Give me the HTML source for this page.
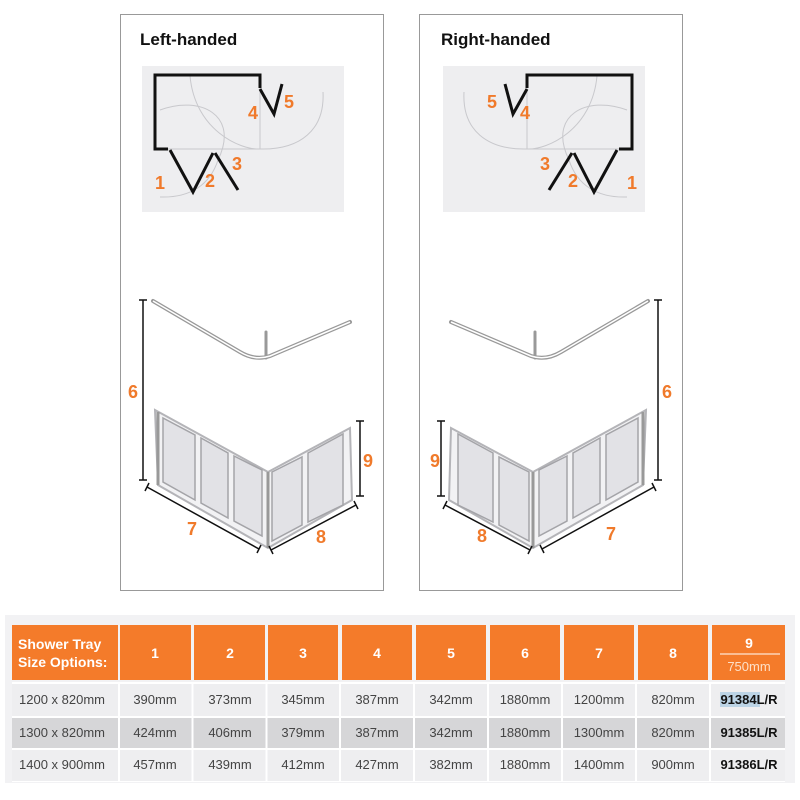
<!DOCTYPE html>
<html><head><meta charset="utf-8"><style>
html,body{margin:0;padding:0;background:#fff;width:800px;height:800px;overflow:hidden}
svg{display:block}
.o{fill:#f07a2b;font-family:"Liberation Sans",sans-serif;font-weight:bold;font-size:18px}
.t{fill:#111;font-family:"Liberation Sans",sans-serif;font-weight:bold;font-size:17px}
.c{font-family:"Liberation Sans Narrow","Liberation Sans",sans-serif;font-size:13px;fill:#444;text-anchor:middle}
.h{font-family:"Liberation Sans Narrow","Liberation Sans",sans-serif;font-size:14px;fill:#fff;font-weight:bold;text-anchor:middle}
</style></head><body>
<svg width="800" height="800" viewBox="0 0 800 800">
<defs>
<g id="plan">
 <rect x="142" y="66" width="202" height="146" fill="#eeeef0"/>
 <g fill="none" stroke="#c8c8cc" stroke-width="1">
  <path d="M168 149 H260 V88"/>
  <path d="M190 76 C195 130 240 150 260 149 C300 150 325 130 323 92"/>
  <path d="M160 110 C200 95 240 115 218 160 C210 185 190 198 160 197"/>
 </g>
 <g fill="none" stroke="#111" stroke-width="3">
  <path d="M260 88 V75 H155 V149 H168"/>
  <path d="M170 150 L193 192 L213 153"/>
  <path d="M215 153 L238 190"/>
  <path d="M260 89 L274 114 L282 84"/>
 </g>
</g>
<g id="low">
 <g fill="none" stroke="#999" stroke-width="4" stroke-linecap="round">
  <path d="M153 301 L240 352 Q255 361 270 356 L350 322"/>
  <path d="M266 332 V358" stroke-width="3"/>
 </g>
 <g fill="none" stroke="#fff" stroke-width="1.5"><path d="M153 301 L240 352 Q255 361 270 356 L350 322"/></g>
 <path d="M155 410 L268 472 L350 428 L352 500 L268 548 L158 485 Z" fill="#f2f2f4" stroke="#b4b4b8" stroke-width="2"/>
 <g fill="#e2e2e6" stroke="#a4a4a8" stroke-width="1.5">
  <path d="M163 418 L195 435 L195 500 L163 482Z"/>
  <path d="M201 438 L228 453 L228 518 L201 503Z"/>
  <path d="M234 456 L262 470 L262 536 L234 521Z"/>
  <path d="M272 472 L302 457 L302 525 L272 541Z"/>
  <path d="M308 453 L343 434 L343 505 L308 522Z"/>
 </g>
 <g stroke="#999" stroke-width="3"><path d="M268 472 V548"/><path d="M158 412 V485"/></g>
 <g stroke="#111" stroke-width="1.5" fill="none">
  <path d="M143 300 V480 M139 300 H147 M139 480 H147"/>
  <path d="M147 487 L259 549 M145 491 L149 483 M257 553 L261 545"/>
  <path d="M271 550 L356 505 M269 546 L273 554 M354 501 L358 509"/>
  <path d="M360 421 V496 M356 421 H364 M356 496 H364"/>
 </g>
</g>
</defs>
<rect x="120.5" y="14.5" width="263" height="576" fill="none" stroke="#999"/>
<rect x="419.5" y="14.5" width="263" height="576" fill="none" stroke="#999"/>
<text class="t" x="140" y="45">Left-handed</text>
<text class="t" x="441" y="45">Right-handed</text>
<use href="#plan"/>
<use href="#plan" transform="translate(787 0) scale(-1 1)"/>
<use href="#low"/>
<use href="#low" transform="translate(801 0) scale(-1 1)"/>
<g class="o">
<text x="155" y="189">1</text><text x="205" y="187">2</text><text x="232" y="170">3</text><text x="248" y="119">4</text><text x="284" y="108">5</text>
<text x="627" y="189">1</text><text x="568" y="187">2</text><text x="540" y="170">3</text><text x="520" y="119">4</text><text x="487" y="108">5</text>
<text x="128" y="398">6</text><text x="187" y="535">7</text><text x="316" y="543">8</text><text x="363" y="467">9</text>
<text x="662" y="398">6</text><text x="606" y="540">7</text><text x="477" y="542">8</text><text x="430" y="467">9</text>
</g>
<rect x="5" y="615" width="790" height="168" fill="#f2f2f4"/>
<g fill="#f47b2a">
<rect x="12" y="625" width="106" height="55"/><rect x="120" y="625" width="71" height="55"/><rect x="194" y="625" width="71" height="55"/><rect x="268" y="625" width="70" height="55"/><rect x="342" y="625" width="70" height="55"/><rect x="416" y="625" width="70" height="55"/><rect x="490" y="625" width="70" height="55"/><rect x="564" y="625" width="70" height="55"/><rect x="638" y="625" width="70" height="55"/><rect x="712" y="625" width="73" height="55"/>
</g>
<rect x="12" y="682" width="773" height="100" fill="#fff"/>
<g fill="#eeeef0">
<rect x="12" y="684" width="773" height="32"/><rect x="12" y="750" width="773" height="31"/>
</g>
<rect x="12" y="718" width="773" height="30" fill="#d6d6d8"/>
<g stroke="#fff" stroke-width="2">
<path d="M119 682V782M192.5 682V782M266.5 682V782M340 682V782M414 682V782M488 682V782M562 682V782M636 682V782M710 682V782"/>
<path d="M12 717H785M12 749H785"/>
</g>
<text class="h" x="18" y="649" style="text-anchor:start">Shower Tray</text>
<text class="h" x="18" y="667" style="text-anchor:start">Size Options:</text>
<g class="h"><text x="155" y="658">1</text><text x="230" y="658">2</text><text x="303" y="658">3</text><text x="377" y="658">4</text><text x="451" y="658">5</text><text x="525" y="658">6</text><text x="599" y="658">7</text><text x="673" y="658">8</text><text x="749" y="648">9</text></g>
<path d="M720 654H780" stroke="#fff"/>
<text class="c" x="749" y="671" style="fill:#fde0c8">750mm</text>
<g class="c">
<text x="62" y="704">1200 x 820mm</text><text x="155" y="704">390mm</text><text x="230" y="704">373mm</text><text x="303" y="704">345mm</text><text x="377" y="704">387mm</text><text x="451" y="704">342mm</text><text x="525" y="704">1880mm</text><text x="599" y="704">1200mm</text><text x="673" y="704">820mm</text>
<text x="62" y="737">1300 x 820mm</text><text x="155" y="737">424mm</text><text x="230" y="737">406mm</text><text x="303" y="737">379mm</text><text x="377" y="737">387mm</text><text x="451" y="737">342mm</text><text x="525" y="737">1880mm</text><text x="599" y="737">1300mm</text><text x="673" y="737">820mm</text>
<text x="62" y="769">1400 x 900mm</text><text x="155" y="769">457mm</text><text x="230" y="769">439mm</text><text x="303" y="769">412mm</text><text x="377" y="769">427mm</text><text x="451" y="769">382mm</text><text x="525" y="769">1880mm</text><text x="599" y="769">1400mm</text><text x="673" y="769">900mm</text>
</g>
<rect x="720" y="692" width="40" height="15" fill="#bcd4e6"/>
<g class="c" style="fill:#111;font-weight:bold"><text x="749" y="704">91384L/R</text><text x="749" y="737">91385L/R</text><text x="749" y="769">91386L/R</text></g>
</svg>
</body></html>
